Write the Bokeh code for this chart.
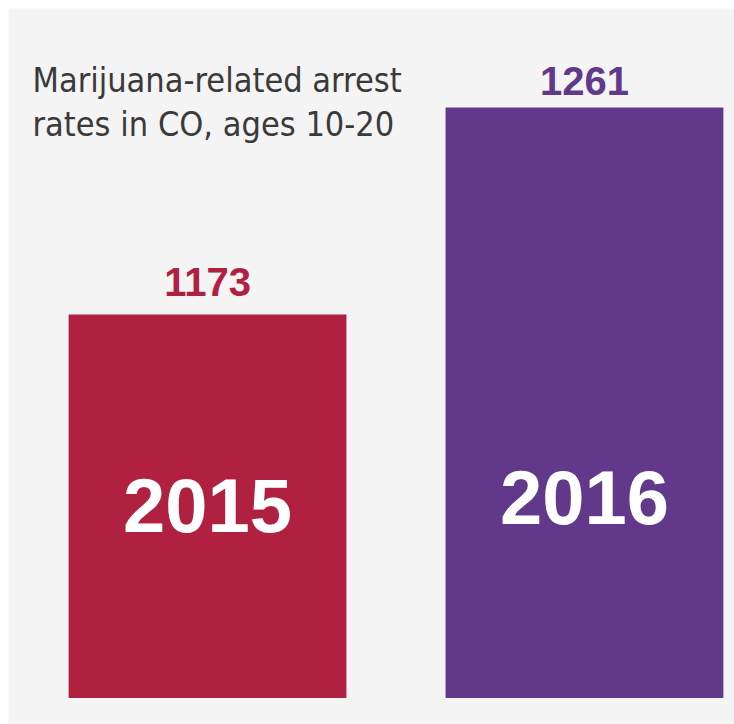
from bokeh.plotting import figure
from bokeh.models import ColumnDataSource, Range1d, Label
from bokeh.core.properties import value
from bokeh.embed import file_html
from bokeh.resources import INLINE

# data
years = ["2015", "2016"]
arrests = [1173, 1261]
colors = ["#B02141", "#62388A"]
title_lines = ["Marijuana-related arrest", "rates in CO, ages 10-20"]

W, H = 734, 724
BASE = 1010
NUM_FONT = "Liberation Sans"
TITLE_FONT = "DejaVu Sans Condensed"

src = ColumnDataSource(dict(
    x=list(range(len(years))),
    top=arrests,
    year=years,
    label=[str(v) for v in arrests],
    color=colors,
    base=[BASE] * len(years),
    val_off=[-33, -27],
    year_off=[-192, -200],
))

p = figure(width=W, height=H, output_backend="svg", toolbar_location=None,
           x_range=Range1d(-0.528, 1.398), y_range=Range1d(998.7, 1303.1),
           min_border=0, min_border_left=8, min_border_right=0,
           min_border_top=8, min_border_bottom=0)
p.axis.visible = False
p.xgrid.visible = False
p.ygrid.visible = False
p.outline_line_color = None
p.background_fill_color = "#F4F4F4"
p.border_fill_color = "white"

p.vbar(x="x", top="top", bottom="base", width=0.737, color="color", line_color=None, source=src)

p.text(x="x", y="top", text="label", y_offset="val_off", text_color="color",
       text_align="center", text_baseline="alphabetic", text_font_size="40px",
       text_font_style="bold", text_font=value(NUM_FONT), source=src)

p.text(x="x", y="base", text="year", y_offset="year_off", text_color="white",
       text_align="center", text_baseline="alphabetic", text_font_size="76px",
       text_font_style="bold", text_font=value(NUM_FONT), source=src)

for i, line in enumerate(title_lines):
    p.add_layout(Label(x=24, y=645 - 44 * i, x_units="screen", y_units="screen",
                       text=line, text_font=TITLE_FONT, text_font_size="34px",
                       text_color="#3a3a3a", text_baseline="alphabetic"))

open("out.html", "w").write(file_html(p, INLINE))
